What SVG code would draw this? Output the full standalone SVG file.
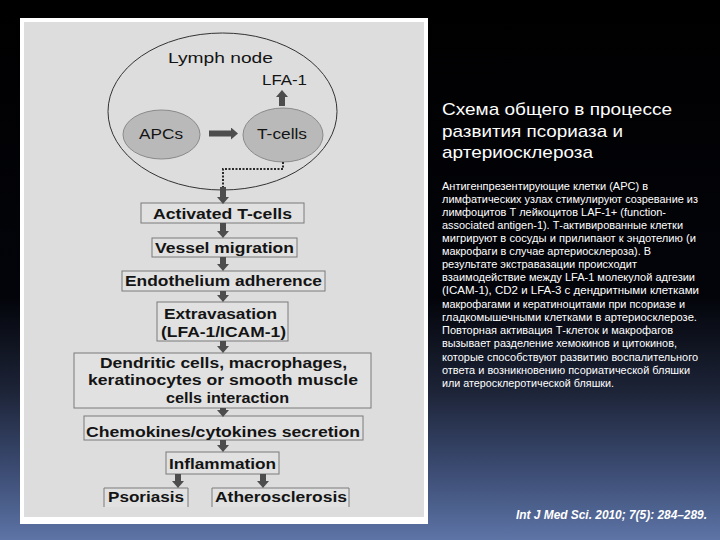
<svg xmlns="http://www.w3.org/2000/svg" width="720" height="540" viewBox="0 0 720 540">
<style>
.lbl{font-family:"Liberation Sans",Arial,sans-serif;font-weight:bold;font-size:14px;fill:#141414}
.reg{font-family:"Liberation Sans",Arial,sans-serif;font-size:14px;fill:#141414}
.box{fill:#e1e1e1;stroke:#7a7a7a;stroke-width:1}
.cell{fill:#b9b9b9;stroke:#8a8a8a;stroke-width:1}
.arr{stroke:#4d4d4d;stroke-width:6;fill:none;marker-end:url(#ah)}
.dot{stroke:#2a2a2a;stroke-width:2;fill:none;stroke-dasharray:2 1.5}
.title{font-family:"Liberation Sans",Arial,sans-serif;font-size:17px;fill:#fff}
.body{font-family:"Liberation Sans",Arial,sans-serif;font-size:10px;fill:#fff}
.cite{font-family:"Liberation Sans",Arial,sans-serif;font-size:12px;font-style:italic;font-weight:bold;fill:#fff}
</style>
<defs>
<linearGradient id="bg" x1="0" y1="0" x2="0" y2="1">
<stop offset="0" stop-color="#000"/>
<stop offset="0.55" stop-color="#03040a"/>
<stop offset="0.72" stop-color="#1c2336"/>
<stop offset="0.87" stop-color="#3b4b72"/>
<stop offset="1" stop-color="#5d74a6"/>
</linearGradient>
<marker id="ah" markerUnits="userSpaceOnUse" markerWidth="7" markerHeight="12" refX="0" refY="6" orient="auto">
<path d="M0,0 L7,6 L0,12 z" fill="#4d4d4d"/>
</marker>
</defs>
<rect x="0" y="0" width="720" height="540" fill="url(#bg)"/>
<rect x="20" y="18" width="408" height="506" fill="#fff"/>
<rect x="24" y="22" width="400" height="495" fill="#dddddd"/>

<g id="lymph-node">
<ellipse cx="222.5" cy="111.5" rx="114.5" ry="78.5" fill="none" stroke="#333" stroke-width="1"/>
<text class="reg" x="168" y="63" font-size="15" textLength="105" lengthAdjust="spacingAndGlyphs">Lymph node</text>
</g>
<g id="lfa1">
<text class="reg" x="262" y="85" font-size="13" textLength="45" lengthAdjust="spacingAndGlyphs">LFA-1</text>
</g>
<g id="apcs">
<ellipse class="cell" cx="161.5" cy="134.5" rx="38.5" ry="24.5"/>
<text class="reg" x="139" y="138.5" textLength="44" lengthAdjust="spacingAndGlyphs">APCs</text>
</g>
<g id="tcells">
<ellipse class="cell" cx="283" cy="135" rx="40" ry="27"/>
<text class="reg" x="257" y="138.5" textLength="50" lengthAdjust="spacingAndGlyphs">T-cells</text>
</g>

<g id="activated">
<rect class="box" x="141" y="203" width="163" height="20"/>
<text class="lbl" x="153" y="219" textLength="139" lengthAdjust="spacingAndGlyphs">Activated T-cells</text>
</g>
<g id="vessel">
<rect class="box" x="152" y="238" width="145" height="19"/>
<text class="lbl" x="155" y="253" textLength="139" lengthAdjust="spacingAndGlyphs">Vessel migration</text>
</g>
<g id="endothelium">
<rect class="box" x="122" y="271" width="203" height="20"/>
<text class="lbl" x="125" y="286" textLength="197" lengthAdjust="spacingAndGlyphs">Endothelium adherence</text>
</g>
<g id="extravasation">
<rect class="box" x="157" y="302" width="131" height="39"/>
<text class="lbl" x="164" y="318.5" textLength="113" lengthAdjust="spacingAndGlyphs">Extravasation</text>
<text class="lbl" x="161" y="336.5" textLength="125" lengthAdjust="spacingAndGlyphs">(LFA-1/ICAM-1)</text>
</g>
<g id="dendritic">
<rect class="box" x="74" y="353" width="297" height="55"/>
<text class="lbl" x="100" y="368" textLength="247" lengthAdjust="spacingAndGlyphs">Dendritic cells, macrophages,</text>
<text class="lbl" x="88" y="385" textLength="270" lengthAdjust="spacingAndGlyphs">keratinocytes or smooth muscle</text>
<text class="lbl" x="166" y="403" textLength="123" lengthAdjust="spacingAndGlyphs">cells interaction</text>
</g>
<g id="chemokines">
<rect class="box" x="84" y="416" width="279" height="24"/>
<text class="lbl" x="86" y="436.5" textLength="274" lengthAdjust="spacingAndGlyphs">Chemokines/cytokines secretion</text>
</g>
<g id="inflammation">
<rect class="box" x="166" y="452" width="113" height="22"/>
<text class="lbl" x="169" y="469" textLength="107" lengthAdjust="spacingAndGlyphs">Inflammation</text>
</g>
<g id="psoriasis">
<path class="box" d="M104,507 V488 H188 V507"/>
<text class="lbl" x="108" y="502" textLength="76" lengthAdjust="spacingAndGlyphs">Psoriasis</text>
</g>
<g id="atherosclerosis">
<path class="box" d="M212,507 V488 H349 V507"/>
<text class="lbl" x="215" y="502" textLength="132" lengthAdjust="spacingAndGlyphs">Atherosclerosis</text>
</g>

<g id="connectors">
<line class="arr" x1="209" y1="133.5" x2="231" y2="133.5"/>
<line class="arr" x1="282" y1="106" x2="282" y2="97"/>
<path class="dot" d="M283,162 V169 H223 V188"/>
<line class="arr" x1="223" y1="187" x2="223" y2="197"/>
<line class="arr" x1="223" y1="223" x2="223" y2="231"/>
<line class="arr" x1="223" y1="257" x2="223" y2="264"/>
<line class="arr" x1="223" y1="291" x2="223" y2="295"/>
<line class="arr" x1="223" y1="341" x2="223" y2="346"/>
<line class="arr" x1="223" y1="408" x2="223" y2="410"/>
<line class="arr" x1="223" y1="440" x2="223" y2="445"/>
<line class="arr" x1="178" y1="474" x2="178" y2="481"/>
<line class="arr" x1="263" y1="474" x2="263" y2="481"/>
</g>

<g id="title">
<text class="title" x="442" y="115" textLength="230" lengthAdjust="spacingAndGlyphs">Схема общего в процессе</text>
<text class="title" x="442" y="136.5" textLength="181" lengthAdjust="spacingAndGlyphs">развития псориаза и</text>
<text class="title" x="442" y="158" textLength="151" lengthAdjust="spacingAndGlyphs">артериосклероза</text>
</g>
<g id="description">
<text class="body" x="442" y="190" textLength="206" lengthAdjust="spacingAndGlyphs">Антигенпрезентирующие клетки (APC) в</text>
<text class="body" x="442" y="203" textLength="256" lengthAdjust="spacingAndGlyphs">лимфатических узлах стимулируют созревание из</text>
<text class="body" x="442" y="216" textLength="224" lengthAdjust="spacingAndGlyphs">лимфоцитов Т лейкоцитов LAF-1+ (function-</text>
<text class="body" x="442" y="229" textLength="241" lengthAdjust="spacingAndGlyphs">associated antigen-1). Т-активированные клетки</text>
<text class="body" x="442" y="242" textLength="254" lengthAdjust="spacingAndGlyphs">мигрируют в сосуды и прилипают к эндотелию (и</text>
<text class="body" x="442" y="255" textLength="209" lengthAdjust="spacingAndGlyphs">макрофаги в случае артериосклероза). В</text>
<text class="body" x="442" y="268" textLength="195" lengthAdjust="spacingAndGlyphs">результате экстравазации происходит</text>
<text class="body" x="442" y="281" textLength="253" lengthAdjust="spacingAndGlyphs">взаимодействие между LFA-1 молекулой адгезии</text>
<text class="body" x="442" y="294" textLength="257" lengthAdjust="spacingAndGlyphs">(ICAM-1), CD2 и LFA-3 с дендритными клетками</text>
<text class="body" x="442" y="307.5" textLength="243" lengthAdjust="spacingAndGlyphs">макрофагами и кератиноцитами при псориазе и</text>
<text class="body" x="442" y="320.5" textLength="255" lengthAdjust="spacingAndGlyphs">гладкомышечными клетками в артериосклерозе.</text>
<text class="body" x="442" y="334" textLength="231" lengthAdjust="spacingAndGlyphs">Повторная активация Т-клеток и макрофагов</text>
<text class="body" x="442" y="347" textLength="235" lengthAdjust="spacingAndGlyphs">вызывает разделение хемокинов и цитокинов,</text>
<text class="body" x="442" y="360.5" textLength="256" lengthAdjust="spacingAndGlyphs">которые способствуют развитию воспалительного</text>
<text class="body" x="442" y="373.5" textLength="248" lengthAdjust="spacingAndGlyphs">ответа и возникновению псориатической бляшки</text>
<text class="body" x="442" y="387" textLength="172" lengthAdjust="spacingAndGlyphs">или атеросклеротической бляшки.</text>
</g>
<g id="citation">
<text class="cite" x="516" y="519" textLength="191" lengthAdjust="spacingAndGlyphs">Int J Med Sci. 2010; 7(5): 284–289.</text>
</g>
</svg>
